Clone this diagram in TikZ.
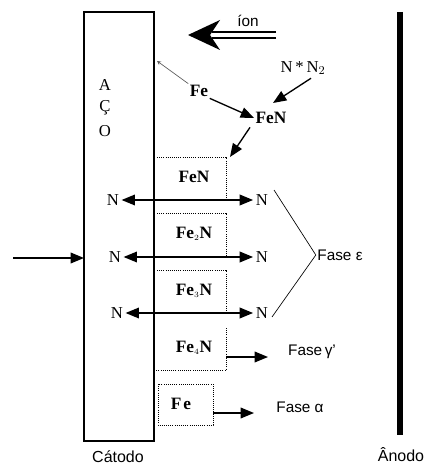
\documentclass[tikz,border=0pt]{standalone}
\usepackage{fontspec}
\setmainfont{Liberation Serif}
\setsansfont{Liberation Sans}
\usetikzlibrary{arrows.meta}

\tikzset{
  nlbl/.style={font=\fontsize{12.5}{14}\selectfont, inner sep=1pt},
  flbl/.style={font=\bfseries\fontsize{13}{15}\selectfont, inner sep=1pt},
  slbl/.style={font=\sffamily\fontsize{11.5}{13}\selectfont, inner sep=1pt},
  zone/.style={densely dotted, line width=0.6pt},
  flux/.style={line width=1pt},
}

\begin{document}
\begin{tikzpicture}[>={Triangle[length=10pt,width=8pt]}, x=0.75pt, y=-0.75pt]
  \useasboundingbox (0,0) rectangle (428,466);
  %================= Parameters (edit these) =================
  \def\xc{84}      % cathode left edge
  \def\xs{154}     % cathode surface
  \def\xz{226}     % right edge of the nitride layers
  \def\xa{400}     % anode

  %================= Cathode (steel) =================
  \draw[line width=1.1pt] (\xc,12) rectangle (\xs,441);
  \node[nlbl] (ca) at (105,85) {A};
  \node[nlbl] (cc) at (105,108) {Ç};
  \node[nlbl] (co) at (105,131) {O};
  \node[slbl, font=\sffamily\fontsize{12}{14}\selectfont] (catodo) at (118,457) {Cátodo};

  %================= Anode =================
  \coordinate (atop) at (\xa,12);
  \coordinate (abot) at (\xa,435);
  \draw[line width=4.5pt] (atop) -- (abot);
  \node[slbl, font=\sffamily\fontsize{12}{14}\selectfont] (anodo) at (401,455) {Ânodo};

  %================= Ion flow =================
  \coordinate (ion1) at (276,32);
  \coordinate (ion2) at (276,38);
  \coordinate (iontip) at (188,35);
  \draw[line width=1.5pt] (ion1) -- (212,32);
  \draw[line width=1.5pt] (ion2) -- (212,38);
  \fill (iontip) -- (220,20) -- (210,35) -- (220,50) -- cycle;
  \node[slbl] (ion) at (248,21) {íon};

  %================= Surface reactions =================
  \node[nlbl] (nn2) at (303,68) {N\,*\,N$_2$};
  \node[flbl] (fe0) at (199,91) {Fe};
  \node[flbl] (fen0) at (271,118) {FeN};
  \coordinate (sput) at (157,61);
  \coordinate (dep) at (230,157);
  \draw[gray!70!black, line width=0.5pt, -{Stealth[length=3pt,width=3pt]}] (fe0.north west) -- (sput);
  \draw[flux, ->] (fe0.south east) -- (fen0.west);
  \draw[flux, ->] (nn2.south) ++(8,2) coordinate (nn2s) (nn2s) -- (273,103);
  \draw[flux, ->] (fen0.south west) ++(-4,2) coordinate (fens) (fens) -- (dep);

  %================= Nitride layers (dotted) =================
  \draw[zone] (157,157) -- (\xz,157) -- (\xz,200);
  \draw[zone] (157,213) -- (\xz,213) -- (\xz,257);
  \draw[zone] (157,270) -- (\xz,270) -- (\xz,313);
  \draw[zone] (\xz,328) -- (\xz,370) -- (\xs,370);
  \draw[zone] (158,384) rectangle (213,425);
  \node[flbl] (l1) at (194,177) {FeN};
  \node[flbl] (l2) at (194,234) {Fe$_{\scriptscriptstyle 2}$N};
  \node[flbl] (l3) at (194,291) {Fe$_{\scriptscriptstyle 3}$N};
  \node[flbl] (l4) at (194,348) {Fe$_{\scriptscriptstyle 4}$N};
  \node[flbl] (l5) at (181,404) {F\kern1.5pt e};

  %================= Nitrogen diffusion =================
  \foreach \i/\y/\xl in {1/200/113,2/257/115,3/313/117}{
    \node[nlbl] (nl\i) at (\xl,\y) {N};
    \node[nlbl] (nr\i) at (262,\y) {N};
    \draw[flux, <->] (nl\i.east) ++(1,0) coordinate (nlx\i) (nlx\i) -- ([xshift=-1]nr\i.west);
  }
  \coordinate (entry) at (13,258);
  \coordinate (entrytip) at (\xc,258);
  \draw[flux, ->] (entry) -- (entrytip);

  %================= Phases =================
  \node[slbl] (feps) at (340,255) {Fase ε};
  \coordinate (b1) at (274,190);
  \coordinate (b3) at (272,317);
  \draw[line width=0.5pt] (b1) -- (feps.west) -- (b3);
  \coordinate (g1) at (\xz,357);
  \coordinate (g2) at (268,357);
  \draw[flux, ->] (g1) -- (g2);
  \node[slbl] (fgam) at (312,352) {Fase\,γ'};
  \coordinate (a1) at (213,413);
  \coordinate (a2) at (254,413);
  \draw[flux, ->] (a1) -- (a2);
  \node[slbl] (falf) at (300,407) {Fase α};
\end{tikzpicture}
\end{document}
